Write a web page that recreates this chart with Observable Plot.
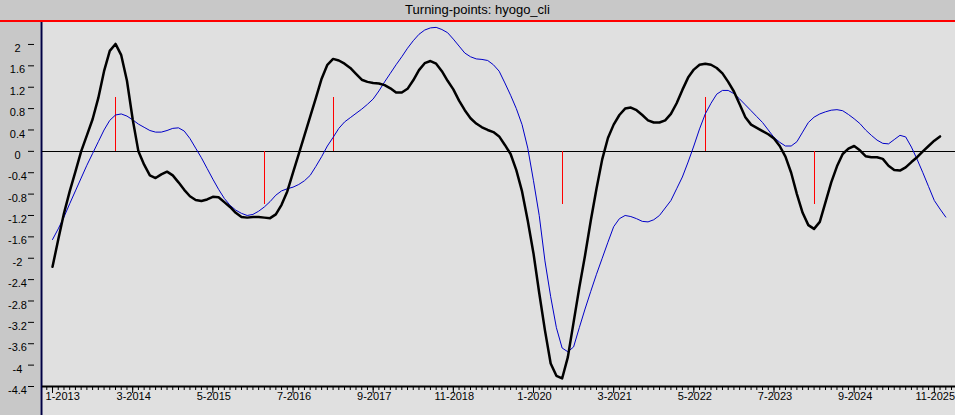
<!DOCTYPE html>
<html>
<head>
<meta charset="utf-8">
<script src="https://cdn.jsdelivr.net/npm/d3@7"></script>
<script src="https://cdn.jsdelivr.net/npm/@observablehq/plot@0.6"></script>
<style>
  html, body { margin: 0; padding: 0; background: #e0e0e0; overflow: hidden; }
  #title {
    height: 20px; line-height: 20px; background: #c8c8c8;
    border-bottom: 2px solid #ff0000; text-align: center;
    font-family: "Liberation Sans", Arial, sans-serif; font-size: 13px; color: #000;
  }
</style>
</head>
<body>
<div id="title">Turning-points: hyogo_cli</div>
<div id="chart"></div>
<script>
// First month of the series: January 2013 (index 0)
const startYear = 2013;

// Composite leading index (thick black), monthly from 1-2013
const cli = [
  -2.16, -1.65, -1.16, -0.75, -0.38, 0.00, 0.30, 0.60, 1.00, 1.50,
  1.88, 2.01, 1.80, 1.32, 0.60, 0.00, -0.25, -0.45, -0.50, -0.43,
  -0.38, -0.45, -0.58, -0.72, -0.84, -0.91, -0.93, -0.90, -0.85, -0.86,
  -0.95, -1.04, -1.15, -1.23, -1.24, -1.23, -1.23, -1.24, -1.25, -1.18,
  -1.00, -0.75, -0.40, -0.05, 0.30, 0.65, 1.00, 1.36, 1.62, 1.73,
  1.70, 1.64, 1.56, 1.45, 1.34, 1.30, 1.28, 1.27, 1.24, 1.18,
  1.10, 1.10, 1.17, 1.33, 1.52, 1.65, 1.69, 1.64, 1.50, 1.32,
  1.16, 0.95, 0.77, 0.62, 0.52, 0.45, 0.40, 0.36, 0.28, 0.12,
  -0.05, -0.35, -0.75, -1.30, -1.91, -2.65, -3.35, -3.97, -4.20, -4.25,
  -3.85, -3.20, -2.55, -1.95, -1.30, -0.70, -0.15, 0.25, 0.50, 0.68,
  0.80, 0.82, 0.77, 0.68, 0.58, 0.54, 0.54, 0.58, 0.70, 0.90,
  1.15, 1.38, 1.53, 1.62, 1.64, 1.62, 1.56, 1.46, 1.30, 1.12,
  0.88, 0.64, 0.50, 0.44, 0.38, 0.32, 0.24, 0.10, -0.10, -0.40,
  -0.80, -1.15, -1.38, -1.45, -1.32, -0.95, -0.58, -0.28, -0.05, 0.05,
  0.10, 0.02, -0.09, -0.11, -0.11, -0.14, -0.27, -0.35, -0.36, -0.30,
  -0.20, -0.11, 0.00, 0.10, 0.20, 0.28
];

// Reference series (thin blue), monthly from 1-2013
const reference = [
  -1.65, -1.45, -1.23, -0.98, -0.74, -0.50, -0.26, -0.04, 0.18, 0.40,
  0.58, 0.68, 0.70, 0.66, 0.59, 0.51, 0.45, 0.39, 0.36, 0.36,
  0.39, 0.43, 0.44, 0.38, 0.24, 0.06, -0.12, -0.32, -0.52, -0.71,
  -0.88, -1.01, -1.10, -1.16, -1.20, -1.18, -1.12, -1.04, -0.94, -0.82,
  -0.74, -0.70, -0.67, -0.62, -0.55, -0.45, -0.28, -0.10, 0.10, 0.26,
  0.43, 0.55, 0.63, 0.71, 0.79, 0.88, 0.98, 1.13, 1.30, 1.46,
  1.62, 1.77, 1.93, 2.07, 2.19, 2.27, 2.31, 2.32, 2.28, 2.22,
  2.10, 1.97, 1.84, 1.77, 1.73, 1.72, 1.70, 1.62, 1.50, 1.28,
  1.05, 0.80, 0.50, 0.06, -0.55, -1.20, -2.05, -2.72, -3.30, -3.68,
  -3.75, -3.66, -3.30, -2.95, -2.62, -2.30, -2.00, -1.70, -1.41, -1.26,
  -1.20, -1.22, -1.26, -1.31, -1.32, -1.28, -1.20, -1.06, -0.92, -0.70,
  -0.48, -0.20, 0.10, 0.42, 0.70, 0.90, 1.07, 1.14, 1.14, 1.08,
  0.98, 0.87, 0.76, 0.65, 0.54, 0.40, 0.26, 0.17, 0.10, 0.10,
  0.18, 0.36, 0.54, 0.64, 0.70, 0.74, 0.77, 0.78, 0.76, 0.69,
  0.61, 0.52, 0.40, 0.30, 0.21, 0.15, 0.14, 0.22, 0.30, 0.27,
  0.08, -0.15, -0.40, -0.66, -0.92, -1.08, -1.23
];

// Turning points (month-year) and their type
const tpMonths = ["12-2013", "2-2016", "2-2017", "6-2020", "7-2022", "2-2024"];
const tpTypes  = ["peak", "trough", "peak", "trough", "peak", "trough"];

// Axis tick labels
const xTickLabels = ["1-2013", "3-2014", "5-2015", "7-2016", "9-2017", "11-2018",
                     "1-2020", "3-2021", "5-2022", "7-2023", "9-2024", "11-2025"];
const yTickLabels = ["2", "1.6", "1.2", "0.8", "0.4", "0", "-0.4", "-0.8", "-1.2", "-1.6",
                     "-2", "-2.4", "-2.8", "-3.2", "-3.6", "-4", "-4.4"];

// helpers
const monthIndex = (s) => { const [m, y] = s.split("-").map(Number); return (y - startYear) * 12 + (m - 1); };
const cliData = cli.map((v, i) => ({m: i, v}));
const refData = reference.map((v, i) => ({m: i, v}));
const tpData = tpMonths.map((s, i) => ({m: monthIndex(s), v: tpTypes[i] === "peak" ? 1 : -1}));
const xLab = xTickLabels.map(s => ({m: monthIndex(s), label: s}));
const yLab = yTickLabels.map(s => ({v: +s, label: s}));
const majorTicks = xLab.map(d => d.m);
const minorTicks = d3.range(-1, 158);

const xDomain = [-1.75, 157.7];
const yDomain = [-4.4, 2.411];

const chart = Plot.plot({
  width: 955,
  height: 393,
  marginLeft: 42,
  marginRight: 0,
  marginTop: 0,
  marginBottom: 29,
  x: {type: "linear", domain: xDomain},
  y: {type: "linear", domain: yDomain},
  style: {
    background: "linear-gradient(to right, #c8c8c8 0px, #c8c8c8 40px, #e0e0e0 40px)",
    fontFamily: "'Liberation Sans', Arial, sans-serif",
    fontSize: "11px",
    color: "black",
    overflow: "visible"
  },
  marks: [
    // left navy border
    Plot.ruleX([xDomain[0]], {stroke: "#000044", strokeWidth: 2, dx: -1, insetBottom: -29}),
    // zero line
    Plot.ruleY([0], {stroke: "black", strokeWidth: 1, shapeRendering: "crispEdges"}),
    // turning points
    Plot.ruleX(tpData, {x: "m", y1: 0, y2: "v", stroke: "#ff0000", strokeWidth: 1, shapeRendering: "crispEdges"}),
    // reference series
    Plot.line(refData, {x: "m", y: "v", stroke: "#0000c8", strokeWidth: 1}),
    // cli
    Plot.line(cliData, {x: "m", y: "v", stroke: "black", strokeWidth: 2.5, strokeLinejoin: "round"}),
    // x axis line
    Plot.ruleY([yDomain[0]], {stroke: "black", strokeWidth: 2}),
    // x ticks
    Plot.axisX({ticks: minorTicks, tickSize: 4, tickFormat: () => "", label: null}),
    Plot.axisX({ticks: majorTicks, tickSize: 7, tickFormat: () => "", label: null}),
    Plot.text(xLab.slice(0, 1), {x: "m", text: "label", frameAnchor: "bottom", dy: 13, textAnchor: "start", dx: -7, fill: "black"}),
    Plot.text(xLab.slice(1), {x: "m", text: "label", frameAnchor: "bottom", dy: 13, dx: 1, fill: "black"}),
    // y ticks
    Plot.axisY({ticks: yLab.map(d => d.v), tickSize: 6, dx: -8, tickFormat: () => "", label: null}),
    Plot.text(yLab, {y: "v", text: "label", frameAnchor: "left", dx: -25, dy: 4, textAnchor: "middle", fill: "black"})
  ]
});
document.getElementById("chart").appendChild(chart);
</script>
</body>
</html>
